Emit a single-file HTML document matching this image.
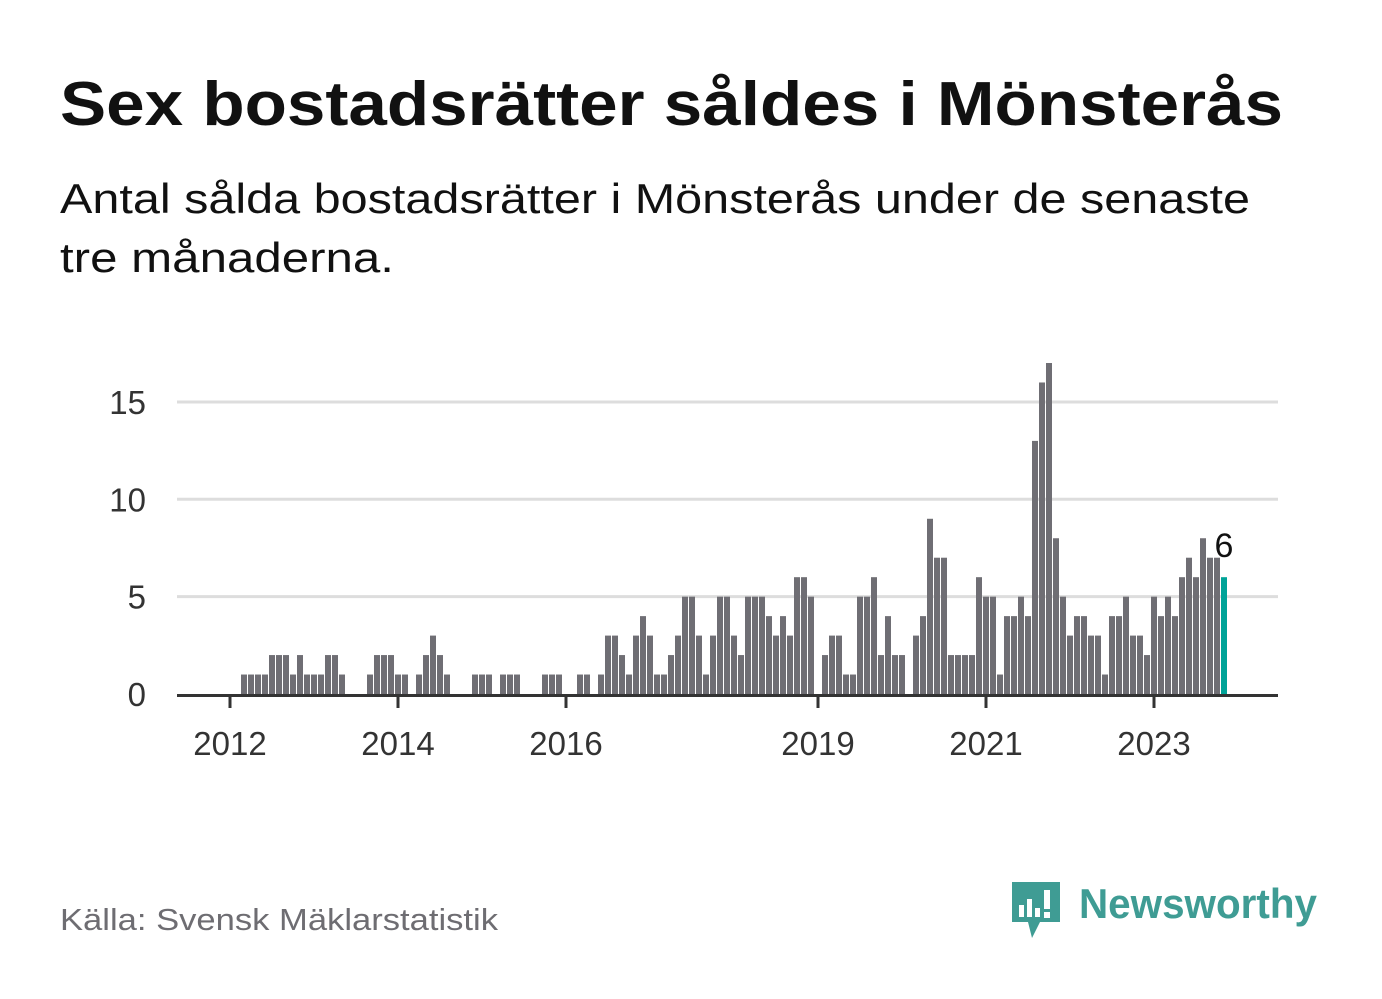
<!DOCTYPE html>
<html><head><meta charset="utf-8"><style>
html,body{margin:0;padding:0;background:#fff;}
svg{display:block;font-family:"Liberation Sans",sans-serif;}
</style></head><body>
<svg id="chart" width="1382" height="999" viewBox="0 0 1382 999">
<text x="60" y="125" font-size="62" font-weight="bold" fill="#111" textLength="1223" lengthAdjust="spacingAndGlyphs">Sex bostadsrätter såldes i Mönsterås</text>
<text x="60" y="213" font-size="42" fill="#111" textLength="1190" lengthAdjust="spacingAndGlyphs">Antal sålda bostadsrätter i Mönsterås under de senaste</text>
<text x="60" y="272" font-size="42" fill="#111" textLength="334" lengthAdjust="spacingAndGlyphs">tre månaderna.</text>
<g id="grid"></g>
<g id="bars"></g>
<g id="axes"></g>
<text x="60" y="930" font-size="31" fill="#6e6d72" textLength="438" lengthAdjust="spacingAndGlyphs">Källa: Svensk Mäklarstatistik</text>
<g>
<path d="M1012 882 h48 v40 h-20 l-8 16 l-4 -16 h-16 z" fill="#3f9c94"/>
<rect x="1019" y="905" width="5" height="12" fill="#fff"/>
<rect x="1027" y="899" width="5" height="18" fill="#fff"/>
<rect x="1035" y="908" width="5" height="9" fill="#fff"/>
<rect x="1044" y="890" width="6" height="19" fill="#fff"/>
<rect x="1044" y="912" width="6" height="6" fill="#fff"/>
<text x="1079" y="918" font-size="42" font-weight="bold" fill="#3f9c94" textLength="238" lengthAdjust="spacingAndGlyphs">Newsworthy</text>
</g>
</svg>
<script>
const values = [1,1,1,1,2,2,2,1,2,1,1,1,2,2,1,0,0,0,1,2,2,2,1,1,0,1,2,3,2,1,0,0,0,1,1,1,0,1,1,1,0,0,0,1,1,1,0,0,1,1,0,1,3,3,2,1,3,4,3,1,1,2,3,5,5,3,1,3,5,5,3,2,5,5,5,4,3,4,3,6,6,5,0,2,3,3,1,1,5,5,6,2,4,2,2,0,3,4,9,7,7,2,2,2,2,6,5,5,1,4,4,5,4,13,16,17,8,5,3,4,4,3,3,1,4,4,5,3,3,2,5,4,5,4,6,7,6,8,7,7,6];
const startMonth = 2; // months since Jan 2012 (March 2012)
const yTicks = [0,5,10,15];
const xTickYears = [2012,2014,2016,2019,2021,2023];
const NS='http://www.w3.org/2000/svg';
const left=177,right=1278,y0=694,unit=19.47,mx0=227,step=7;
const y = v => y0 - v*unit;
const xm = m => mx0 + m*step;
function mk(tag, attrs, parent){const e=document.createElementNS(NS,tag);for(const k in attrs)e.setAttribute(k,attrs[k]);parent.appendChild(e);return e;}
const grid=document.getElementById('grid'),bars=document.getElementById('bars'),axes=document.getElementById('axes');
yTicks.forEach(t=>{
  if(t>0){const l=mk('line',{x1:left,x2:right,y1:y(t),y2:y(t),stroke:'#dddddd','stroke-width':3},grid);
  
  }
  const tx=mk('text',{x:146,y:y(t)+12,'font-size':33,fill:'#333','text-anchor':'end'},axes);
  tx.textContent=t;
  
  
});
values.forEach((v,i)=>{
  const m=startMonth+i,last=i===values.length-1;
  const r=mk('rect',{x:xm(m),y:y(v),width:6,height:y0-y(v),fill:last?'#00a398':'#6f6e74'},bars);
  
  
  if(last){const lb=mk('text',{x:xm(m)+3,y:y(v)-20,'font-size':34,fill:'#111','text-anchor':'middle'},bars);
  lb.textContent=v;
  
  }
});
const base=mk('line',{x1:left,x2:right,y1:y0+1.5,y2:y0+1.5,stroke:'#333','stroke-width':3},axes);


xTickYears.forEach(yr=>{
  const cx=xm((yr-2012)*12)+3;
  const tk=mk('line',{x1:cx,x2:cx,y1:y0,y2:y0+14,stroke:'#333','stroke-width':3},axes);
  
  
  const tx=mk('text',{x:cx,y:755,'font-size':33,fill:'#333','text-anchor':'middle'},axes);
  tx.textContent=yr;
  
  
});
</script>
</body></html>
